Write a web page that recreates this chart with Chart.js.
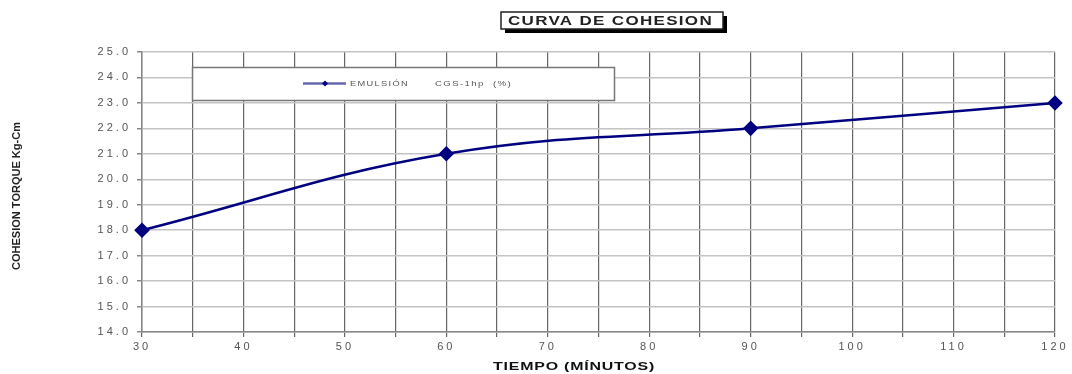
<!DOCTYPE html>
<html>
<head>
<meta charset="utf-8">
<script src="https://cdn.jsdelivr.net/npm/chart.js@4.4.0/dist/chart.umd.min.js"></script>
<style>
  html, body { margin: 0; padding: 0; background: #fff; }
  #wrap { width: 1072px; height: 374px; position: relative; }
</style>
</head>
<body>
<div id="wrap"><canvas id="cohesionChart" width="1072" height="374"></canvas></div>
<script>
// datos
const minutes = [30, 60, 90, 120];
const cohesion = [18.0, 21.0, 22.0, 23.0];
const seriesLabel = 'EMULSIÓN      CGS-1hp  (%)';
const chartTitle = 'CURVA DE COHESION';
const xTitle = 'TIEMPO (MÍNUTOS)';
const yTitle = 'COHESION TORQUE Kg-Cm';

// texto estirado horizontalmente hasta un ancho dado (como en el original)
function fitText(ctx, text, x, y, width, font, color, spacing) {
    ctx.save();
    ctx.font = font;
    ctx.fillStyle = color;
    ctx.letterSpacing = (spacing || 0) + 'px';
    const w = ctx.measureText(text).width;
    ctx.translate(x, y);
    ctx.scale(width / w, 1);
    ctx.textAlign = 'left';
    ctx.textBaseline = 'middle';
    ctx.fillText(text, 0, 0);
    ctx.restore();
}

const decorations = {
    id: 'decorations',
    beforeDraw(chart) {
        chart.ctx.letterSpacing = '3px';
    },
    afterDraw(chart) {
        const ctx = chart.ctx;
        ctx.save();
        ctx.letterSpacing = '0px';

        // caja del título con sombra
        ctx.fillStyle = '#000';
        ctx.fillRect(505, 16, 222, 17);
        ctx.fillStyle = '#fff';
        ctx.fillRect(501, 12, 222, 17);
        ctx.strokeStyle = '#222';
        ctx.lineWidth = 1.5;
        ctx.strokeRect(501, 12, 222, 17);
        fitText(ctx, chartTitle, 508, 21, 205, 'bold 13px Arial', '#222', 1);

        // leyenda
        ctx.fillStyle = '#fff';
        ctx.fillRect(192.5, 67.5, 422, 33);
        ctx.strokeStyle = '#777';
        ctx.lineWidth = 1.5;
        ctx.strokeRect(192.5, 67.5, 422, 33);
        const ds = chart.data.datasets[0];
        ctx.strokeStyle = ds.borderColor;
        ctx.globalAlpha = 0.6;
        ctx.lineWidth = 2.5;
        ctx.beginPath();
        ctx.moveTo(303, 83.5);
        ctx.lineTo(346, 83.5);
        ctx.stroke();
        ctx.globalAlpha = 1;
        ctx.fillStyle = ds.borderColor;
        ctx.beginPath();
        ctx.moveTo(325, 80.5); ctx.lineTo(328, 83.5); ctx.lineTo(325, 86.5); ctx.lineTo(322, 83.5);
        ctx.closePath();
        ctx.fill();
        const parts = ds.label.split(/\s{3,}/);
        fitText(ctx, parts[0], 350, 84, 59, '7px Arial', '#555', 1);
        fitText(ctx, parts[1], 435, 84, 77, '7px Arial', '#555', 1);

        // títulos de ejes
        fitText(ctx, xTitle, 493, 367, 162, 'bold 10px Arial', '#111', 0.5);
        ctx.save();
        ctx.translate(17, 196);
        ctx.rotate(-Math.PI / 2);
        fitText(ctx, yTitle, -74, 0, 148, 'bold 10px Arial', '#222', 0);
        ctx.restore();

        ctx.restore();
    }
};

new Chart(document.getElementById('cohesionChart'), {
    type: 'line',
    data: {
        datasets: [{
            label: seriesLabel,
            data: minutes.map((m, i) => ({ x: m, y: cohesion[i] })),
            borderColor: '#000080',
            backgroundColor: '#000080',
            borderWidth: 2.5,
            pointStyle: 'rectRot',
            pointRadius: 6,
            pointHoverRadius: 6,
            tension: 0.4,
            clip: false
        }]
    },
    options: {
        responsive: false,
        animation: false,
        events: [],
        layout: { padding: { left: 0, right: 17, top: 52, bottom: 0 } },
        plugins: {
            legend: { display: false },
            title: { display: false },
            tooltip: { enabled: false }
        },
        scales: {
            x: {
                type: 'linear',
                min: 30,
                max: 120,
                afterFit(scale) { scale.height = 42; },
                ticks: {
                    stepSize: 5,
                    autoSkip: false,
                    maxRotation: 0,
                    padding: 3,
                    color: '#555',
                    font: { family: 'Arial', size: 11 },
                    callback: v => (v % 10 === 0 ? String(v) : '')
                },
                grid: { color: '#666', lineWidth: 1.2, tickLength: 5, tickColor: '#666' },
                border: { color: '#888', width: 1.5 }
            },
            y: {
                min: 14,
                max: 25,
                afterFit(scale) { scale.width = 142; },
                ticks: {
                    stepSize: 1,
                    padding: 6,
                    color: '#555',
                    font: { family: 'Arial', size: 11 },
                    callback: v => v.toFixed(1)
                },
                grid: { color: '#c4c4c4', lineWidth: 1.5, tickLength: 5, tickColor: '#888' },
                border: { color: '#888', width: 1.5 }
            }
        }
    },
    plugins: [decorations]
});
</script>
</body>
</html>
